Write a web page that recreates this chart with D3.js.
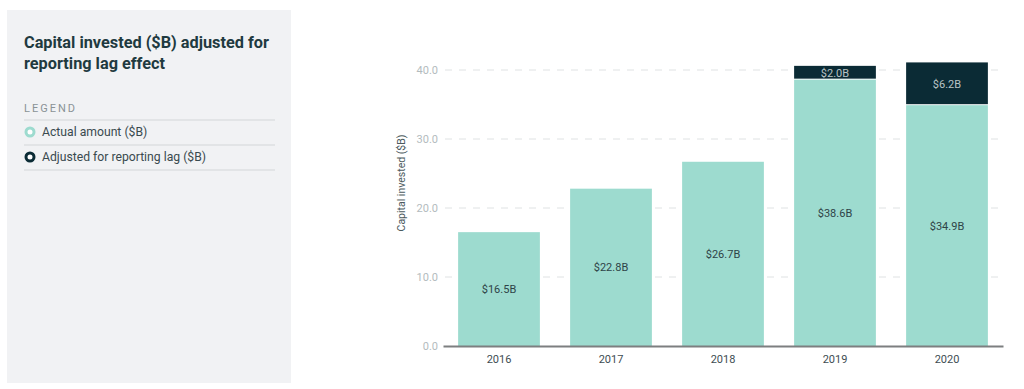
<!DOCTYPE html>
<html>
<head>
<meta charset="utf-8">
<script src="https://cdn.jsdelivr.net/npm/d3@7"></script>
<style>
  body { margin: 0; background: #fff; }
  svg { display: block; font-family: Roboto, "Noto Sans", sans-serif; }
</style>
</head>
<body>
<svg width="1024" height="389"></svg>
<script>
var years = ['2016', '2017', '2018', '2019', '2020'];
var actual = [16.5, 22.8, 26.7, 38.6, 34.9];
var lagAdjust = [0, 0, 0, 2.0, 6.2];
var yTicks = [0, 10, 20, 30, 40];
var legendLabels = ['Actual amount ($B)', 'Adjusted for reporting lag ($B)'];
var colors = ['#9ddbcf', '#0b2b35'];

var svg = d3.select('svg');

// left panel
svg.append('rect')
  .attr('x', 7).attr('y', 10)
  .attr('width', 284).attr('height', 373)
  .attr('fill', '#f1f2f4');

svg.append('text')
  .attr('x', 24).attr('y', 48)
  .attr('font-size', 16.3).attr('font-weight', 700)
  .attr('fill', '#1f3a40')
  .text('Capital invested ($B) adjusted for');
svg.append('text')
  .attr('x', 24).attr('y', 69)
  .attr('font-size', 16.3).attr('font-weight', 700)
  .attr('fill', '#1f3a40')
  .text('reporting lag effect');

svg.append('text')
  .attr('x', 24).attr('y', 112)
  .attr('font-size', 11).attr('letter-spacing', 2)
  .attr('fill', '#8a9396')
  .text('LEGEND');

[120, 145, 170].forEach(function (yy) {
  svg.append('line')
    .attr('x1', 24).attr('x2', 275)
    .attr('y1', yy).attr('y2', yy)
    .attr('stroke', '#d3d6d8').attr('stroke-width', 1);
});

legendLabels.forEach(function (lab, i) {
  var cy = 132 + i * 25;
  svg.append('circle')
    .attr('cx', 30).attr('cy', cy).attr('r', 4)
    .attr('fill', '#fff')
    .attr('stroke', colors[i]).attr('stroke-width', 3);
  svg.append('text')
    .attr('x', 42).attr('y', cy + 4)
    .attr('font-size', 12.2)
    .attr('fill', '#3a4a4f')
    .text(lab);
});

// chart
var x = d3.scaleBand()
  .domain(years)
  .range([443, 1003])
  .paddingInner(0.27)
  .paddingOuter(0.135);

var y = d3.scaleLinear()
  .domain([0, 40])
  .range([346, 70]);

// gridlines
svg.append('g')
  .selectAll('line')
  .data(yTicks.filter(function (d) { return d > 0; }))
  .enter().append('line')
  .attr('x1', 445).attr('x2', 1003)
  .attr('y1', function (d) { return y(d); })
  .attr('y2', function (d) { return y(d); })
  .attr('stroke', '#dfe2e3')
  .attr('stroke-dasharray', '7,7');

var yAxis = svg.append('g')
  .attr('transform', 'translate(440,0)')
  .call(d3.axisLeft(y).tickValues(yTicks).tickSize(0).tickPadding(2)
    .tickFormat(d3.format('.1f')));
yAxis.select('.domain').remove();
yAxis.selectAll('text')
  .attr('font-size', 11)
  .attr('fill', '#b3bbbe')
  .attr('font-family', 'Roboto, sans-serif');

svg.append('text')
  .attr('transform', 'translate(405,183) rotate(-90)')
  .attr('text-anchor', 'middle')
  .attr('font-size', 10.5)
  .attr('fill', '#4c5a5e')
  .text('Capital invested ($B)');

// bars: actual
svg.append('g')
  .selectAll('rect')
  .data(years)
  .enter().append('rect')
  .attr('x', function (d) { return x(d); })
  .attr('width', x.bandwidth())
  .attr('y', function (d, i) { return y(actual[i]); })
  .attr('height', function (d, i) { return y(0) - y(actual[i]); })
  .attr('fill', colors[0]);

// bars: lag adjustment
svg.append('g')
  .selectAll('rect')
  .data(years.filter(function (d, i) { return lagAdjust[i] > 0; }))
  .enter().append('rect')
  .attr('x', function (d) { return x(d); })
  .attr('width', x.bandwidth())
  .attr('y', function (d) { var i = years.indexOf(d); return y(actual[i] + lagAdjust[i]); })
  .attr('height', function (d) { var i = years.indexOf(d); return y(actual[i]) - y(actual[i] + lagAdjust[i]) - 1; })
  .attr('fill', colors[1]);

// value labels
svg.append('g')
  .selectAll('text')
  .data(years)
  .enter().append('text')
  .attr('x', function (d) { return x(d) + x.bandwidth() / 2; })
  .attr('y', function (d, i) { return y(actual[i] / 2) + 4; })
  .attr('text-anchor', 'middle')
  .attr('font-size', 11)
  .attr('fill', '#2e4347')
  .text(function (d, i) { return '$' + actual[i].toFixed(1) + 'B'; });

svg.append('g')
  .selectAll('text')
  .data(years.filter(function (d, i) { return lagAdjust[i] > 0; }))
  .enter().append('text')
  .attr('x', function (d) { return x(d) + x.bandwidth() / 2; })
  .attr('y', function (d) { var i = years.indexOf(d); return y(actual[i] + lagAdjust[i] / 2) + 4; })
  .attr('text-anchor', 'middle')
  .attr('font-size', 11)
  .attr('fill', '#b9c3c5')
  .text(function (d) { var i = years.indexOf(d); return '$' + lagAdjust[i].toFixed(1) + 'B'; });

// x axis
var xAxis = svg.append('g')
  .attr('transform', 'translate(0,346)')
  .call(d3.axisBottom(x).tickSize(0).tickPadding(9));
xAxis.select('.domain')
  .attr('stroke', '#7d7f80').attr('stroke-width', 2);
xAxis.selectAll('text')
  .attr('font-size', 11)
  .attr('fill', '#3e4d52')
  .attr('font-family', 'Roboto, sans-serif');
</script>
</body>
</html>
